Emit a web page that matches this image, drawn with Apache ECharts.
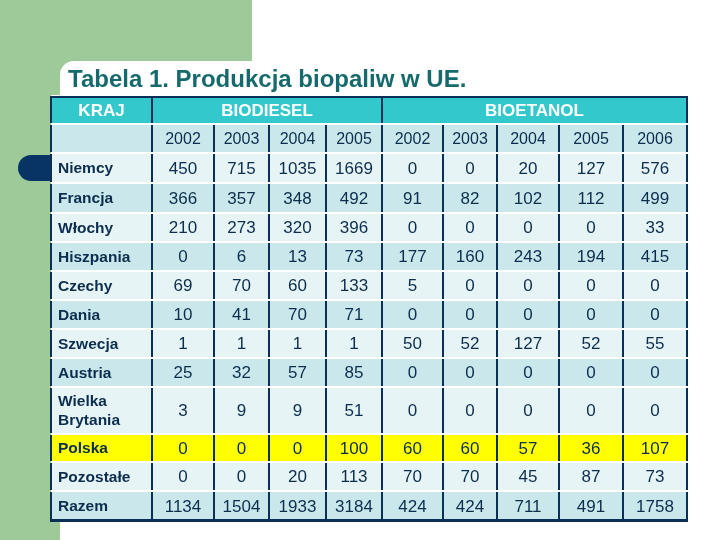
<!DOCTYPE html>
<html><head><meta charset="utf-8">
<script src="https://cdn.jsdelivr.net/npm/echarts@6/dist/echarts.min.js"></script>
<style>html,body{margin:0;padding:0;background:#fff}#c{width:720px;height:540px}</style>
</head><body><div id="c"></div>
<script>
// ---- data ----
const titleText = 'Tabela 1. Produkcja biopaliw w UE.';
const headerLabels = ['KRAJ', 'BIODIESEL', 'BIOETANOL'];
const biodieselYears = ['2002', '2003', '2004', '2005'];
const bioetanolYears = ['2002', '2003', '2004', '2005', '2006'];
const countries = ['Niemcy', 'Francja', 'Włochy', 'Hiszpania', 'Czechy', 'Dania', 'Szwecja', 'Austria', 'Wielka\nBrytania', 'Polska', 'Pozostałe', 'Razem'];
const biodiesel = [
  [450, 715, 1035, 1669],
  [366, 357, 348, 492],
  [210, 273, 320, 396],
  [0, 6, 13, 73],
  [69, 70, 60, 133],
  [10, 41, 70, 71],
  [1, 1, 1, 1],
  [25, 32, 57, 85],
  [3, 9, 9, 51],
  [0, 0, 0, 100],
  [0, 0, 20, 113],
  [1134, 1504, 1933, 3184]
];
const bioetanol = [
  [0, 0, 20, 127, 576],
  [91, 82, 102, 112, 499],
  [0, 0, 0, 0, 33],
  [177, 160, 243, 194, 415],
  [5, 0, 0, 0, 0],
  [0, 0, 0, 0, 0],
  [50, 52, 127, 52, 55],
  [0, 0, 0, 0, 0],
  [0, 0, 0, 0, 0],
  [60, 60, 57, 36, 107],
  [70, 70, 45, 87, 73],
  [424, 424, 711, 491, 1758]
];
const highlightCountry = 'Polska';

// ---- layout (table units) ----
const colWidths = [101, 62, 55, 57, 56, 61, 54, 62, 64, 64];
const rowHeights = [28, 29, 30, 30, 29, 29, 29, 29, 29, 29, 47, 28, 29, 30];
const colEdges = [0]; colWidths.forEach(w => colEdges.push(colEdges[colEdges.length - 1] + w));
const rowEdges = [0]; rowHeights.forEach(h => rowEdges.push(rowEdges[rowEdges.length - 1] + h));
const totalW = colEdges[colEdges.length - 1];
const totalH = rowEdges[rowEdges.length - 1];

// ---- styles ----
const C = {
  green: '#9dca98', navy: '#0b2f57', teal: '#33c8cb', dark: '#cae8eb', light: '#e6f4f5',
  yellow: '#ffff00', text: '#0c2d4e', title: '#176a6c', blob: '#073464'
};
const FONT = 'Liberation Sans, Arial, sans-serif';

// ---- build cells ----
const cells = [];
function addCell(c0, c1, r, text, kind) {
  cells.push({ value: [colEdges[c0], colEdges[c1], rowEdges[r], rowEdges[r + 1]], text: String(text), kind: kind, row: r });
}
const nB = biodieselYears.length, nE = bioetanolYears.length;
addCell(0, 1, 0, headerLabels[0], 'head');
addCell(1, 1 + nB, 0, headerLabels[1], 'head');
addCell(1 + nB, 1 + nB + nE, 0, headerLabels[2], 'head');
addCell(0, 1, 1, '', 'year');
biodieselYears.forEach((y, i) => addCell(1 + i, 2 + i, 1, y, 'year'));
bioetanolYears.forEach((y, i) => addCell(1 + nB + i, 2 + nB + i, 1, y, 'year'));
countries.forEach((name, k) => {
  const r = 2 + k;
  const hl = name === highlightCountry;
  addCell(0, 1, r, name, hl ? 'nameHL' : 'name');
  biodiesel[k].forEach((v, i) => addCell(1 + i, 2 + i, r, v, hl ? 'numHL' : 'num'));
  bioetanol[k].forEach((v, i) => addCell(1 + nB + i, 2 + nB + i, r, v, hl ? 'numHL' : 'num'));
});
const lastRow = rowHeights.length - 1;

function renderItem(params, api) {
  const d = cells[params.dataIndex];
  const p0 = api.coord([api.value(0), api.value(2)]);
  const p1 = api.coord([api.value(1), api.value(3)]);
  const x0 = p0[0], x1 = p1[0], y0 = p0[1], y1 = p1[1];
  let fill;
  if (d.kind === 'head') fill = C.teal;
  else if (d.kind === 'nameHL' || d.kind === 'numHL') fill = C.yellow;
  else fill = (d.row % 2 === 1) ? C.dark : C.light;
  const top = y0 + 1, bot = y1 - 1;
  const children = [
    { type: 'rect', shape: { x: x0, y: y0 - 1, width: x1 - x0, height: y1 - y0 + 2 }, style: { fill: '#ffffff' } },
    { type: 'rect', shape: { x: x0, y: top, width: x1 - x0, height: bot - top }, style: { fill: fill } },
    { type: 'rect', shape: { x: x0 - 1, y: top, width: 2, height: bot - top }, style: { fill: C.navy } },
    { type: 'rect', shape: { x: x1 - 1, y: top, width: 2, height: bot - top }, style: { fill: C.navy } }
  ];
  if (d.row === 0) children.push({ type: 'rect', shape: { x: x0 - 1, y: y0, width: x1 - x0 + 2, height: 2 }, style: { fill: C.navy } });
  if (d.row === lastRow) children.push({ type: 'rect', shape: { x: x0 - 1, y: y1 - 2, width: x1 - x0 + 2, height: 3 }, style: { fill: C.navy } });
  const cy = (y0 + y1) / 2 + 1;
  if (d.text) {
    if (d.kind === 'head') {
      children.push({ type: 'text', style: { x: (x0 + x1) / 2, y: cy, text: d.text, fill: '#ffffff', font: 'bold 17px ' + FONT, align: 'center', verticalAlign: 'middle' } });
    } else if (d.kind === 'name' || d.kind === 'nameHL') {
      children.push({ type: 'text', style: { x: x0 + 7, y: cy, text: d.text, fill: C.text, font: 'bold 15.5px ' + FONT, align: 'left', verticalAlign: 'middle', lineHeight: 19 } });
    } else if (d.kind === 'year') {
      children.push({ type: 'text', style: { x: (x0 + x1) / 2, y: cy, text: d.text, fill: C.text, font: '16px ' + FONT, align: 'center', verticalAlign: 'middle' } });
    } else {
      children.push({ type: 'text', style: { x: (x0 + x1) / 2, y: cy, text: d.text, fill: C.text, font: '17px ' + FONT, align: 'center', verticalAlign: 'middle' } });
    }
  }
  return { type: 'group', children: children };
}

const chart = echarts.init(document.getElementById('c'), null, { renderer: 'canvas' });
chart.setOption({
  animation: false,
  backgroundColor: '#ffffff',
  title: {
    text: titleText, left: 63, top: 63,
    textStyle: { color: C.title, fontSize: 24, fontWeight: 'bold', fontFamily: FONT }
  },
  graphic: [
    { type: 'rect', z: -10, silent: true, shape: { x: 0, y: 0, width: 252, height: 540 }, style: { fill: C.green } },
    { type: 'rect', z: -9, silent: true, shape: { x: 60, y: 61, width: 660, height: 479, r: [14, 0, 0, 0] }, style: { fill: '#ffffff' } },
    { type: 'rect', z: -8, silent: true, shape: { x: 18, y: 155, width: 40, height: 26, r: [13, 0, 0, 13] }, style: { fill: C.blob } }
  ],
  grid: { left: 51, top: 96, width: totalW, height: totalH },
  xAxis: { type: 'value', min: 0, max: totalW, show: false },
  yAxis: { type: 'value', min: 0, max: totalH, inverse: true, show: false },
  series: [{
    type: 'custom', silent: true, clip: false,
    renderItem: renderItem,
    encode: { x: [0, 1], y: [2, 3] },
    data: cells.map(c => ({ value: c.value }))
  }]
});
</script></body></html>
